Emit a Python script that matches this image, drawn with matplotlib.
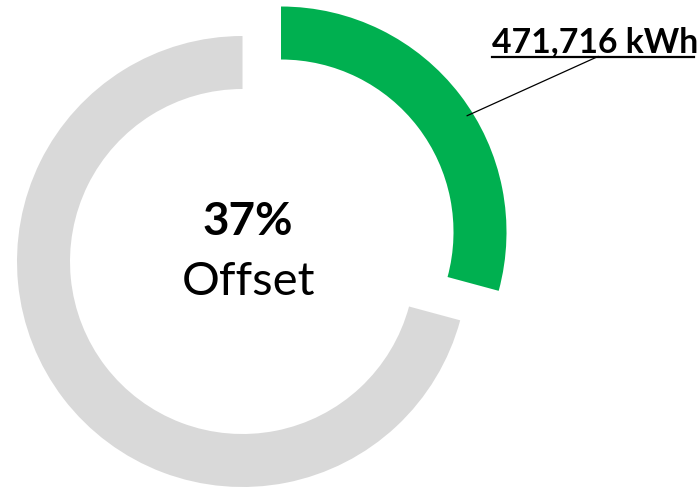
import numpy as np
import matplotlib.pyplot as plt

# data
labels = ["Offset", "Remaining"]
shares = [29.2, 70.8]
colors = ["#00B050", "#D9D9D9"]
explode = [48.5, 0.0]   # pie uses data units for explode here
center_pct = "37%"
center_word = "Offset"
label_text = "471,716 kWh"

W, H = 697, 489
fig = plt.figure(figsize=(W / 100, H / 100), dpi=100)
ax = fig.add_axes([0, 0, 1, 1])

cx, cy, R = 242.5, H - 262.5, 225.5
wedges, _ = ax.pie(shares, colors=colors, explode=explode, startangle=90,
                   counterclock=False, radius=R, center=(cx, cy),
                   wedgeprops=dict(width=53, linewidth=0), frame=True)
ax.set_xlim(0, W)
ax.set_ylim(0, H)
ax.set_aspect("equal")
ax.axis("off")

# center text
ax.text(248, H - 235, center_pct, ha="center", va="baseline",
        fontsize=33, fontweight="bold", family="Lato")
ax.text(249, H - 295, center_word, ha="center", va="baseline",
        fontsize=34, family="Lato")

# callout label with leader line to the green slice
g = wedges[0]
ang = np.deg2rad(32)
px = g.center[0] + (g.r - 6) * np.cos(ang)
py = g.center[1] + (g.r - 6) * np.sin(ang)
ax.text(492, H - 52, label_text, ha="left", va="baseline",
        fontsize=24.3, fontweight="bold", family="Lato")
ax.plot([492, 694], [H - 57.5, H - 57.5], color="black", lw=1.6)
ax.plot([598, px], [H - 57.5, py], color="black", lw=0.9)

fig.savefig("out.png", dpi=100)
